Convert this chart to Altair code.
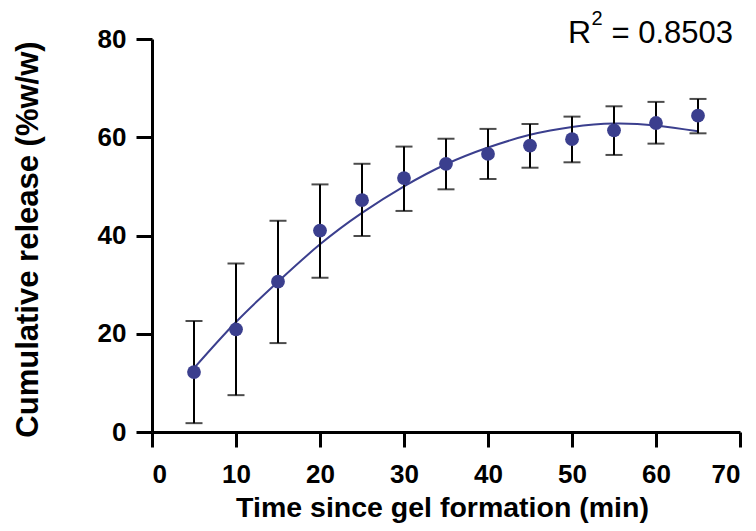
import altair as alt
import pandas as pd

time_min = [5, 10, 15, 20, 25, 30, 35, 40, 45, 50, 55, 60, 65]
mean_release = [12.2, 20.9, 30.6, 41.0, 47.2, 51.7, 54.6, 56.6, 58.3, 59.6, 61.4, 62.9, 64.4]
lower_release = [1.8, 7.5, 18.1, 31.4, 39.9, 45.0, 49.4, 51.5, 53.8, 54.9, 56.4, 58.7, 60.8]
upper_release = [22.6, 34.3, 43.0, 50.4, 54.6, 58.1, 59.7, 61.7, 62.7, 64.2, 66.3, 67.2, 67.8]
fit_release = [13.0, 22.4, 30.6, 38.2, 44.6, 50.0, 54.5, 57.9, 60.5, 62.1, 62.8, 62.4, 61.2]

x_ticks = [0, 10, 20, 30, 40, 50, 60, 70]
y_ticks = [0, 20, 40, 60, 80]
r2_base = "R"
r2_sup = "2"
r2_value = "= 0.8503"

df = pd.DataFrame({
    "t": time_min,
    "mean": mean_release,
    "lo": lower_release,
    "hi": upper_release,
    "fit": fit_release,
})

FONT = "Liberation Sans, Arial, Helvetica, sans-serif"
COL = "#3b3f8e"

x_enc = alt.X(
    "t:Q",
    scale=alt.Scale(domain=[0, 70], nice=False),
    axis=alt.Axis(
        values=x_ticks,
        title="Time since gel formation (min)",
        titleFontSize=28.5,
        titleFontWeight="bold",
        titleX=290,
        titleY=84,
        titleBaseline="alphabetic",
        titleAlign="center",
        labelFontSize=26,
        labelFontWeight="bold",
        labelBaseline="alphabetic",
        labelPadding=35,
        tickSize=15,
    ),
)
y_scale = alt.Scale(domain=[0, 80], nice=False)
y_axis = alt.Axis(
    values=y_ticks,
    title="Cumulative release (%w/w)",
    titleFontSize=31,
    titleFontWeight="bold",
    titleX=-115,
    titleY=200,
    titleAngle=270,
    titleBaseline="alphabetic",
    titleAlign="center",
    labelFontSize=26,
    labelFontWeight="bold",
    labelPadding=10,
    tickSize=16,
)

base = alt.Chart(df)

fit_line = base.mark_line(color=COL, strokeWidth=2, interpolate="natural").encode(
    x=x_enc,
    y=alt.Y("fit:Q", scale=y_scale, axis=y_axis),
)

err_rule = base.mark_rule(color="black", strokeWidth=2).encode(
    x="t:Q", y="lo:Q", y2="hi:Q"
)
cap_lo = base.mark_tick(color="black", thickness=2, size=17, orient="horizontal").encode(
    x="t:Q", y="lo:Q"
)
cap_hi = base.mark_tick(color="black", thickness=2, size=17, orient="horizontal").encode(
    x="t:Q", y="hi:Q"
)
points = base.mark_circle(color=COL, size=190, opacity=1).encode(
    x="t:Q", y="mean:Q"
)

txt_r = alt.Chart(pd.DataFrame({"txt": [r2_base]})).mark_text(
    align="right", baseline="alphabetic", fontSize=32, font=FONT, color="black"
).encode(x=alt.value(439), y=alt.value(4), text="txt:N")
txt_sup = alt.Chart(pd.DataFrame({"txt": [r2_sup]})).mark_text(
    align="left", baseline="alphabetic", fontSize=20, font=FONT, color="black"
).encode(x=alt.value(439.5), y=alt.value(-14), text="txt:N")
txt_val = alt.Chart(pd.DataFrame({"txt": [r2_value]})).mark_text(
    align="right", baseline="alphabetic", fontSize=31, font=FONT, color="black"
).encode(x=alt.value(581), y=alt.value(4), text="txt:N")

chart = (
    alt.layer(fit_line, err_rule, cap_lo, cap_hi, points, txt_r, txt_sup, txt_val)
    .properties(
        width=588,
        height=393,
        autosize=alt.AutoSizeParams(type="none"),
        padding={"left": 144, "top": 31, "right": 8, "bottom": 91},
        background="white",
    )
    .configure_view(stroke=None)
    .configure_axis(
        grid=False,
        domainColor="black",
        domainWidth=3,
        tickColor="black",
        tickWidth=3,
        labelColor="black",
        titleColor="black",
        labelFont=FONT,
        titleFont=FONT,
    )
)

chart.save("out.html", embed_options={"renderer": "svg", "actions": False})
